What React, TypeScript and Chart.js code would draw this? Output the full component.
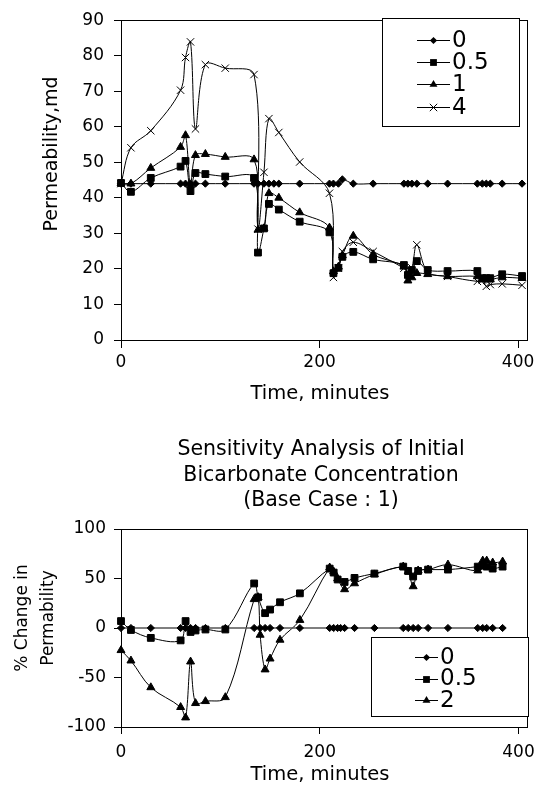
import React, { useEffect, useRef } from 'react';
import { Chart, registerables } from 'chart.js';

Chart.register(...registerables);

const FONT = "'DejaVu Sans', sans-serif";

// ---------------- Top chart data ----------------
const topTimes = [0, 10, 30, 60, 65, 70, 75, 85, 105, 134, 138, 144, 149, 154, 159, 180, 210, 214, 219, 223, 234, 254, 285, 289, 293, 298, 309, 329, 359, 364, 368, 372, 384, 404];
const topLabels = ['0', '0.5', '1', '4'];
const top0 = [44, 44, 44, 44, 44, 44, 44, 44, 44, 44, 44, 44, 44, 44, 44, 44, 44, 44, 44, 45.2, 44, 44, 44, 44, 44, 44, 44, 44, 44, 44, 44, 44, 44, 44];
const top05 = [44.2, 41.7, 45.6, 48.8, 50.4, 41.9, 47, 46.7, 46, 45.6, 24.6, 31.4, 38.3, null, 36.7, 33.3, 30.3, 18.8, 20.3, 23.4, 24.8, 22.7, 21.1, 18.3, 19.7, 22.2, 19.7, 19.4, 19.4, 17.4, 17.4, 17.4, 18.5, 18];
const top1 = [44, 44, 48.4, 54.3, 57.6, 43.5, 52, 52.3, 51.5, 50.8, 31, 31.4, 41.3, null, 40, 35.9, 31.6, 19.3, 20.6, 23.8, 29.3, 24.1, 20.6, 16.7, 17.6, 18.8, 18.5, 17.9, 17.9, 17, 17, 17, 17.6, 17.4];
const top4 = [44, 54.1, 58.9, 70.3, 79.5, 83.9, 59.4, 77.5, 76.5, 74.7, 31.2, 47.2, 62.3, null, 58.4, 50.1, 41.3, 17.6, 20.2, 24.9, 27.5, 24.9, 20.2, 19.3, 20.3, 26.8, 19.1, 17.9, 16.5, 16.9, 15.1, 15.6, 15.8, 15.4];
const topXTicks = [0, 200, 400];
const topYTicks = [0, 10, 20, 30, 40, 50, 60, 70, 80, 90];
const topXTitle = 'Time, minutes';
const topYTitle = 'Permeability,md';

// ---------------- Bottom chart data ----------------
const bottomTimes = [0, 10, 30, 60, 65, 70, 75, 85, 105, 134, 138, 140, 145, 150, 160, 180, 210, 214, 218, 221, 225, 235, 255, 284, 289, 294, 299, 309, 329, 359, 364, 368, 374, 384];
const bottomLabels = ['0', '0.5', '2'];
const bottom0 = [0, 0, 0, 0, 0, 0, 0, 0, 0, 0, null, 0, 0, 0, 0, 0, 0, 0, 0, 0, 0, 0, 0, 0, 0, 0, 0, 0, 0, 0, 0, 0, 0, 0];
const bottom05 = [7, -2, -10, -12.5, 7, -4, -2.5, -1.5, -1.5, 45, 31, null, 15, 18.6, 26, 35, 60, 56, 49, null, 46.5, 50.6, 55, 62, 57.6, 52, 57.6, 59, 59, 62, 63, 62, 60, 62];
const bottom2 = [-22.5, -33, -60, -80, -90.5, -34, -76, -74, -70, 29, 31, -7, -42, -31, -12, 8, 61, 57, 50, null, 39, 45, 54, 62, 57, 42, 58, 59, 64, 58, 68, 68, 66, 67];
const bottomXTicks = [0, 200, 400];
const bottomYTicks = [-100, -50, 0, 50, 100];
const bottomTitle = ['Sensitivity Analysis of Initial', 'Bicarbonate Concentration', '(Base Case : 1)'];
const bottomXTitle = 'Time, minutes';
const bottomYTitle = ['% Change in', 'Permability'];

type Marker = 'diamond' | 'square' | 'triangle' | 'cross';

const markerStyle: Record<Marker, { style: string; radius: number }> = {
  diamond: { style: 'rectRot', radius: 3.6 },
  square: { style: 'rect', radius: 4.8 },
  triangle: { style: 'triangle', radius: 4.6 },
  cross: { style: 'crossRot', radius: 5.2 },
};

function drawMarker(ctx: CanvasRenderingContext2D, m: Marker, x: number, y: number) {
  ctx.fillStyle = '#000';
  ctx.strokeStyle = '#000';
  ctx.lineWidth = 1;
  ctx.beginPath();
  if (m === 'diamond') {
    const r = 3.6;
    ctx.moveTo(x, y - r); ctx.lineTo(x + r, y); ctx.lineTo(x, y + r); ctx.lineTo(x - r, y);
    ctx.closePath(); ctx.fill();
  } else if (m === 'square') {
    const s = 3.4;
    ctx.rect(x - s, y - s, 2 * s, 2 * s); ctx.fill();
  } else if (m === 'triangle') {
    const r = 4.6;
    ctx.moveTo(x, y - r); ctx.lineTo(x + r * 0.866, y + r / 2); ctx.lineTo(x - r * 0.866, y + r / 2);
    ctx.closePath(); ctx.fill();
  } else {
    const d = 3.7;
    ctx.moveTo(x - d, y - d); ctx.lineTo(x + d, y + d);
    ctx.moveTo(x + d, y - d); ctx.lineTo(x - d, y + d);
    ctx.stroke();
  }
}

interface TextItem { text: string; x: number; y: number; size: number; rot?: number }
interface LegendCfg { x: number; y: number; w: number; h: number; firstRow: number; rowH: number; lineX0: number; lineX1: number; textX: number; size: number; items: { label: string; marker: Marker }[] }

function makePlugins(texts: TextItem[], legend: LegendCfg) {
  return [
    {
      id: 'frame',
      afterDatasetsDraw(chart: any) {
        const { ctx, chartArea } = chart;
        ctx.save();
        ctx.strokeStyle = '#000';
        ctx.lineWidth = 1;
        const l = Math.round(chartArea.left) + 0.5;
        const t = Math.round(chartArea.top) + 0.5;
        const r = Math.round(chartArea.right) + 0.5;
        const b = Math.round(chartArea.bottom) + 0.5;
        ctx.strokeRect(l, t, r - l, b - t);
        ctx.restore();
      },
    },
    {
      id: 'boxLegendAndTexts',
      afterDraw(chart: any) {
        const ctx: CanvasRenderingContext2D = chart.ctx;
        ctx.save();
        // legend
        ctx.fillStyle = '#fff';
        ctx.fillRect(legend.x, legend.y, legend.w, legend.h);
        ctx.strokeStyle = '#000';
        ctx.lineWidth = 1;
        ctx.strokeRect(legend.x + 0.5, legend.y + 0.5, legend.w, legend.h);
        legend.items.forEach((it, i) => {
          const cy = legend.y + legend.firstRow + i * legend.rowH;
          ctx.strokeStyle = '#000';
          ctx.lineWidth = 1;
          ctx.beginPath();
          ctx.moveTo(legend.lineX0, Math.round(cy) + 0.5);
          ctx.lineTo(legend.lineX1, Math.round(cy) + 0.5);
          ctx.stroke();
          drawMarker(ctx, it.marker, (legend.lineX0 + legend.lineX1) / 2, Math.round(cy) + 0.5);
          ctx.fillStyle = '#000';
          ctx.font = `${legend.size}px ${FONT}`;
          ctx.textAlign = 'left';
          ctx.textBaseline = 'middle';
          ctx.fillText(it.label, legend.textX, cy + 1);
        });
        // texts
        texts.forEach((it) => {
          ctx.save();
          ctx.translate(it.x, it.y);
          if (it.rot) ctx.rotate(it.rot);
          ctx.font = `${it.size}px ${FONT}`;
          ctx.fillStyle = '#000';
          ctx.textAlign = 'center';
          ctx.textBaseline = 'middle';
          ctx.fillText(it.text, 0, 0);
          ctx.restore();
        });
        ctx.restore();
      },
    },
  ];
}

function dataset(label: string, times: number[], values: (number | null)[], marker: Marker, lineColor = '#000', lineWidth = 1) {
  const ms = markerStyle[marker];
  return {
    label,
    data: times.map((t, i) => ({ x: t, y: values[i] })),
    borderColor: lineColor,
    borderWidth: lineWidth,
    pointStyle: ms.style,
    pointRadius: ms.radius,
    pointBackgroundColor: '#000',
    pointBorderColor: '#000',
    pointBorderWidth: 1,
    tension: 0.35,
    spanGaps: true,
    clip: false,
    fill: false,
  };
}

function axis(min: number, max: number, tickValues: number[], fit: (s: any) => void, tickLength: number, padding: number) {
  return {
    type: 'linear' as const,
    min,
    max,
    afterBuildTicks: (s: any) => { s.ticks = tickValues.map((v) => ({ value: v })); },
    afterFit: fit,
    grid: { drawOnChartArea: false, drawTicks: true, tickLength, color: '#000', lineWidth: 1 },
    border: { display: false },
    ticks: { color: '#000', font: { family: FONT, size: 17 }, padding, maxRotation: 0, autoSkip: false },
  };
}

function TopChart() {
  const ref = useRef<HTMLCanvasElement>(null);
  useEffect(() => {
    const H = 410;
    const texts: TextItem[] = [
      { text: topXTitle, x: 320, y: 394, size: 19.5 },
      { text: topYTitle, x: 52, y: 154, size: 19, rot: -Math.PI / 2 },
    ];
    const legend: LegendCfg = {
      x: 382, y: 18, w: 137, h: 108, firstRow: 22, rowH: 22.2, lineX0: 417, lineX1: 450, textX: 452, size: 23,
      items: [
        { label: topLabels[0], marker: 'diamond' },
        { label: topLabels[1], marker: 'square' },
        { label: topLabels[2], marker: 'triangle' },
        { label: topLabels[3], marker: 'cross' },
      ],
    };
    const chart = new Chart(ref.current!, {
      type: 'line',
      data: {
        datasets: [
          dataset(topLabels[0], topTimes, top0, 'diamond'),
          dataset(topLabels[1], topTimes, top05, 'square'),
          dataset(topLabels[2], topTimes, top1, 'triangle'),
          dataset(topLabels[3], topTimes, top4, 'cross'),
        ] as any,
      },
      options: {
        animation: false,
        responsive: false,
        devicePixelRatio: 1,
        layout: { padding: { left: 0, top: 13, right: 16, bottom: 0 } },
        plugins: { legend: { display: false }, tooltip: { enabled: false } },
        scales: {
          x: axis(0, 409, topXTicks, (s: any) => { s.height = H - 340; }, 8, 4),
          y: axis(0, 90, topYTicks, (s: any) => { s.width = 121; }, 7, 10),
        },
      } as any,
      plugins: makePlugins(texts, legend) as any,
    });
    return () => chart.destroy();
  }, []);
  return <canvas ref={ref} width={543} height={410} style={{ display: 'block', width: 543, height: 410 }} />;
}

function BottomChart() {
  const ref = useRef<HTMLCanvasElement>(null);
  useEffect(() => {
    const top = 410;
    const H = 383;
    const texts: TextItem[] = [
      { text: bottomTitle[0], x: 321, y: 450 - top, size: 20.5 },
      { text: bottomTitle[1], x: 321, y: 476 - top, size: 20.5 },
      { text: bottomTitle[2], x: 321, y: 501 - top, size: 20.5 },
      { text: bottomXTitle, x: 320, y: 775 - top, size: 19.5 },
      { text: bottomYTitle[0], x: 23, y: 618 - top, size: 17, rot: -Math.PI / 2 },
      { text: bottomYTitle[1], x: 49, y: 618 - top, size: 17, rot: -Math.PI / 2 },
    ];
    const legend: LegendCfg = {
      x: 371, y: 637 - top, w: 157, h: 79, firstRow: 20, rowH: 21.5, lineX0: 415, lineX1: 438, textX: 440, size: 23,
      items: [
        { label: bottomLabels[0], marker: 'diamond' },
        { label: bottomLabels[1], marker: 'square' },
        { label: bottomLabels[2], marker: 'triangle' },
      ],
    };
    const chart = new Chart(ref.current!, {
      type: 'line',
      data: {
        datasets: [
          dataset(bottomLabels[0], bottomTimes, bottom0, 'diamond', '#555', 1.6),
          dataset(bottomLabels[1], bottomTimes, bottom05, 'square'),
          dataset(bottomLabels[2], bottomTimes, bottom2, 'triangle'),
        ] as any,
      },
      options: {
        animation: false,
        responsive: false,
        devicePixelRatio: 1,
        layout: { padding: { left: 0, top: 119, right: 12, bottom: 0 } },
        plugins: { legend: { display: false }, tooltip: { enabled: false } },
        scales: {
          x: axis(0, 409, bottomXTicks, (s: any) => { s.height = H - 317; }, 7, 8),
          y: axis(-100, 100, bottomYTicks, (s: any) => { s.width = 121; }, 7, 8),
        },
      } as any,
      plugins: makePlugins(texts, legend) as any,
    });
    return () => chart.destroy();
  }, []);
  return <canvas ref={ref} width={543} height={383} style={{ display: 'block', width: 543, height: 383 }} />;
}

export default function App() {
  return (
    <div style={{ position: 'absolute', left: 0, top: 0, width: 543, height: 793, background: '#fff' }}>
      <TopChart />
      <BottomChart />
    </div>
  );
}
